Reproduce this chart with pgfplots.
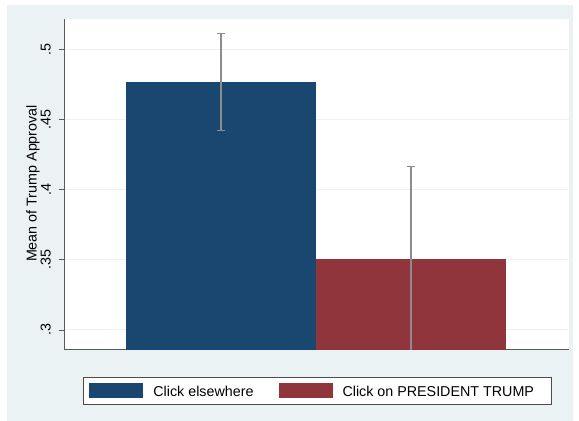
\documentclass[border=0pt]{standalone}
\usepackage{pgfplots}
\pgfplotsset{compat=1.18}
\usepackage{fontspec}
\setmainfont{Liberation Sans}

\definecolor{statabg}{RGB}{234,242,243}
\definecolor{statanavy}{RGB}{26,71,111}
\definecolor{statamaroon}{RGB}{144,53,59}
\definecolor{gridc}{RGB}{234,242,243}
\definecolor{cigray}{RGB}{140,140,140}
\newcommand{\chartfont}{\fontsize{14.3bp}{17bp}\selectfont}

\pgfplotsset{
  swatch legend/.style={
    legend image code/.code={\fill[##1] (0bp,-7.5bp) rectangle (54bp,7.5bp);}},
  ci bars/.style={
    error bars/.cd, y dir=both, y explicit,
    error bar style={cigray, line width=1.2bp},
    error mark options={rotate=90, cigray, mark size=4bp, line width=1.2bp}},
}

\begin{document}
\begin{tikzpicture}
\fill[white] (0,0) rectangle (579bp,421bp);
\fill[statabg] (7bp,0) rectangle (573bp,416bp);
\useasboundingbox (0,0) rectangle (579bp,421bp);
\begin{axis}[
  at={(64bp,71bp)}, anchor=south west,
  scale only axis, width=505bp, height=331bp,
  axis background/.style={fill=white},
  xmin=0.1737, xmax=2.8316,
  ymin=0.2857, ymax=0.5214,
  axis x line*=bottom, axis y line*=left,
  axis line style={black!65, line width=1bp, -},
  xtick=\empty,
  ytick={0.3,0.35,0.4,0.45,0.5},
  yticklabels={.3,.35,.4,.45,.5},
  /pgf/number format/assume math mode=true,
  tick align=outside,
  major tick length=5bp,
  tick style={black!65, line width=0.8bp},
  yticklabel style={xshift=-8bp, rotate=90, anchor=south, inner sep=0pt, font=\chartfont},
  ymajorgrids,
  grid style={gridc, line width=1bp},
  ylabel={Mean of Trump Approval},
  every axis y label/.style={at={(axis description cs:-0.0614,0.503)},
    rotate=90, anchor=center, font=\chartfont},
  ybar, bar width=1,
  legend columns=2,
  legend style={at={(0.0376,-0.0816)},
    anchor=north west, draw=black!70, line width=0.8bp, fill=white,
    inner xsep=6bp, inner ysep=6bp, font=\chartfont,
    nodes={inner sep=0pt, text depth=0pt},
    /tikz/every odd column/.append style={column sep=10bp},
    /tikz/every even column/.append style={column sep=25bp}},
]
\addplot[fill=statanavy, draw=none, bar shift=0pt, swatch legend, ci bars]
  coordinates {(1,0.4766) +- (0,0.0344)};
\addlegendentry{Click elsewhere}
\addplot[fill=statamaroon, draw=none, bar shift=0pt, swatch legend, ci bars]
  coordinates {(2,0.3507) +- (0,0.0655)};
\addlegendentry{Click on PRESIDENT TRUMP\hspace*{11bp}}
\end{axis}
\end{tikzpicture}
\end{document}
